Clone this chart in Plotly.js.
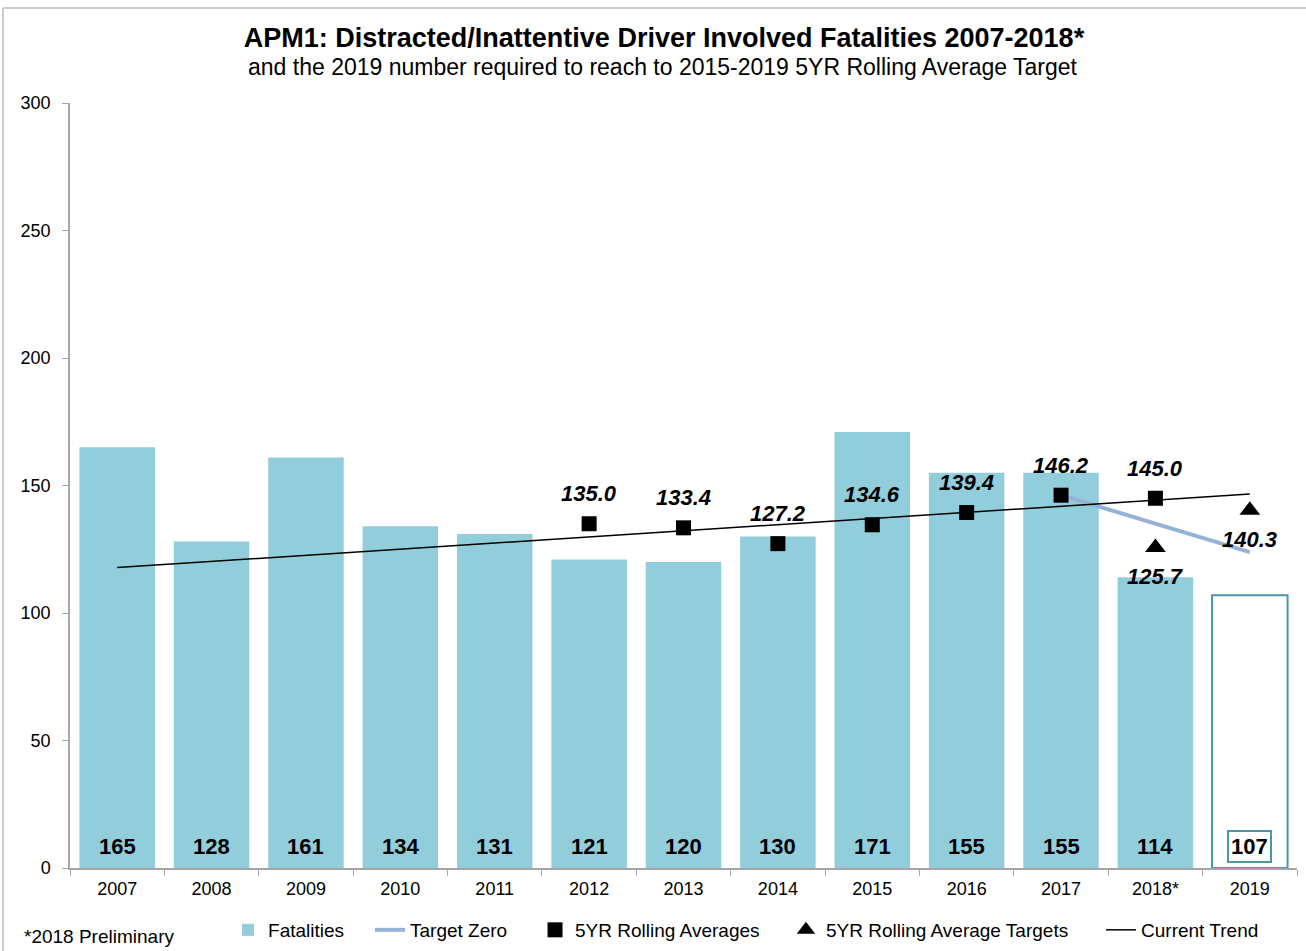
<!DOCTYPE html>
<html>
<head>
<meta charset="utf-8">
<script src="https://cdn.plot.ly/plotly-3.0.1.min.js"></script>
<style>html,body{margin:0;padding:0;background:#fff;}#chart{width:1306px;height:951px;}</style>
</head>
<body>
<div id="chart"></div>
<script>
// ---- data ----
const years = ['2007','2008','2009','2010','2011','2012','2013','2014','2015','2016','2017','2018*'];
const fatalities = [165,128,161,134,131,121,120,130,171,155,155,114];
const requiredYear = ['2019'];
const requiredValue = [107];
const rollingYears = ['2012','2013','2014','2015','2016','2017','2018*'];
const rollingAvg = [135.0,133.4,127.2,134.6,139.4,146.2,145.0];
const targetYears = ['2018*','2019'];
const targetAvg = [125.7,140.3];
const targetZeroYears = ['2017','2019'];
const targetZero = [146.2,123.9];
const trendYears = ['2007','2019'];
const trendValues = [117.8,146.7];
const allCategories = years.concat(requiredYear);
const idx = c => allCategories.indexOf(c);

const FONT = 'Liberation Sans, Arial, sans-serif';

const traces = [
  {type:'bar', name:'Fatalities', x:years, y:fatalities, legend:'legend',
   marker:{color:'#92CDDC', line:{width:0}}, hoverinfo:'x+y'},
  {type:'bar', name:'2019 required', x:requiredYear, y:requiredValue, showlegend:false,
   marker:{color:'#FFFFFF', line:{color:'#4A97A8', width:2}}},
  {type:'scatter', mode:'lines', name:'Target Zero', x:targetZeroYears, y:targetZero, legend:'legend2',
   line:{color:'#95B3D7', width:4}},
  {type:'scatter', mode:'markers', name:'5YR Rolling Averages', x:rollingYears, y:rollingAvg, legend:'legend3',
   marker:{symbol:'square', size:15, color:'#000'}},
  {type:'scatter', mode:'markers', name:'5YR Rolling Average Targets', x:targetYears, y:targetAvg, legend:'legend4',
   marker:{symbol:'triangle-up', size:18, color:'#000'}},
  {type:'scatter', mode:'lines', name:'Current Trend', x:trendYears, y:trendValues, legend:'legend5',
   line:{color:'#000', width:1.5}}
];

const annotations = [];
// bar value labels at the base
years.forEach((yr,i)=>{
  annotations.push({x:idx(yr), y:0, xref:'x', yref:'y', text:'<b>'+fatalities[i]+'</b>', showarrow:false,
    yanchor:'bottom', yshift:7, font:{family:FONT, size:22, color:'#000'}});
});
requiredYear.forEach((yr,i)=>{
  annotations.push({x:idx(yr), y:0, xref:'x', yref:'y', text:'<b>'+requiredValue[i]+'</b>', showarrow:false,
    yanchor:'bottom', yshift:5, bordercolor:'#4A97A8', borderwidth:2, borderpad:2, bgcolor:'#fff',
    font:{family:FONT, size:22, color:'#000'}});
});
// rolling average labels above markers
rollingYears.forEach((yr,i)=>{
  annotations.push({x:idx(yr), y:rollingAvg[i], xref:'x', yref:'y', text:'<b><i>'+rollingAvg[i].toFixed(1)+'</i></b>',
    showarrow:false, yanchor:'middle', yshift:30, font:{family:FONT, size:22, color:'#000'}});
});
// target labels below markers
targetYears.forEach((yr,i)=>{
  annotations.push({x:idx(yr), y:targetAvg[i], xref:'x', yref:'y', text:'<b><i>'+targetAvg[i].toFixed(1)+'</i></b>',
    showarrow:false, yanchor:'middle', yshift:-29, font:{family:FONT, size:22, color:'#000'}});
});
// subtitle
annotations.push({xref:'paper', yref:'paper', x:0.4833, y:1.047, xanchor:'center', yanchor:'middle',
  text:'and the 2019 number required to reach to 2015-2019 5YR Rolling Average Target', showarrow:false,
  font:{family:FONT, size:23, color:'#000'}});
// footnote
annotations.push({xref:'paper', yref:'paper', x:-0.0391, y:-0.090, xanchor:'left', yanchor:'middle',
  text:'*2018 Preliminary', showarrow:false, font:{family:FONT, size:19, color:'#000'}});

function legendAt(x){
  return {orientation:'h', x:x, xanchor:'left', yref:'container', y:0.0221, yanchor:'middle',
    font:{family:FONT, size:19, color:'#000'}, bgcolor:'rgba(0,0,0,0)', borderwidth:0};
}

const layout = {
  width:1306, height:951,
  margin:{l:70, r:9, t:103, b:83},
  paper_bgcolor:'#fff', plot_bgcolor:'#fff',
  font:{family:FONT, size:18, color:'#000'},
  title:{text:'<b>APM1: Distracted/Inattentive Driver Involved Fatalities 2007-2018*</b>',
    xref:'container', x:0.5084, xanchor:'center', yref:'container', y:0.96, yanchor:'middle',
    font:{family:FONT, size:27, color:'#000'}},
  barmode:'overlay', bargap:0.2,
  xaxis:{type:'category', categoryorder:'array', categoryarray:allCategories, range:[-0.5, 12.5],
    showline:true, linecolor:'#A6A6A6', linewidth:1.5, ticks:'outside', tickson:'boundaries',
    ticklen:6, tickcolor:'#A6A6A6', showgrid:false, zeroline:false, tickangle:0,
    ticklabelstandoff:4, automargin:false,
    tickfont:{family:FONT, size:18, color:'#000'}},
  yaxis:{range:[0,300], dtick:50, showline:true, linecolor:'#A6A6A6', linewidth:1.5,
    ticks:'outside', ticklen:6, tickcolor:'#A6A6A6', showgrid:false, zeroline:false,
    ticklabelstandoff:8, automargin:false, tickfont:{family:FONT, size:18, color:'#000'}},
  showlegend:true,
  legend:legendAt(0.1288),
  legend2:legendAt(0.2445),
  legend3:legendAt(0.3790),
  legend4:legendAt(0.5835),
  legend5:legendAt(0.8403),
  annotations:annotations,
  shapes:[
    {type:'line', xref:'paper', yref:'paper', x0:-0.0546, x1:1.0075, y0:1.1242, y1:1.1242, line:{color:'#BBBBBB', width:1.5}},
    {type:'line', xref:'paper', yref:'paper', x0:-0.0546, x1:-0.0546, y0:1.1242, y1:-0.11, line:{color:'#BBBBBB', width:1.5}}
  ]
};

Plotly.newPlot('chart', traces, layout, {displayModeBar:false, responsive:false});
</script>
</body>
</html>
